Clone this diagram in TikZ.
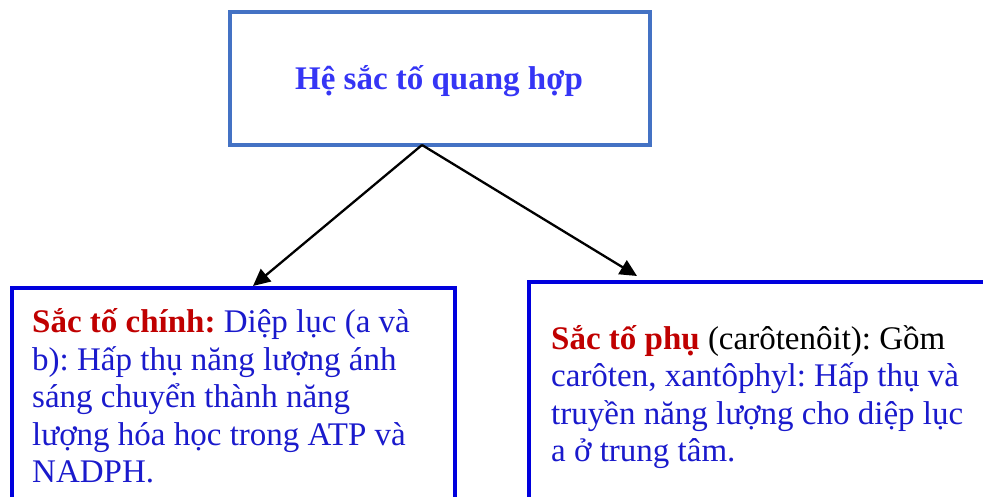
\documentclass[tikz,border=0pt]{standalone}
\usepackage{fontspec}
\setmainfont{Liberation Serif}
\usetikzlibrary{arrows.meta}
\frenchspacing
\definecolor{topblue}{HTML}{4472C4}
\definecolor{boxblue}{HTML}{0000DD}
\definecolor{txtblue}{HTML}{1A1ACC}
\definecolor{titleblue}{HTML}{3535F5}
\definecolor{hred}{HTML}{C00000}
\tikzset{
  topbox/.style={draw=topblue, line width=4pt, minimum width=420pt, minimum height=133pt, inner sep=0pt},
  lowbox/.style={draw=boxblue, line width=4.5pt},
  bodytext/.style={anchor=base west, align=left, inner sep=0pt, text=txtblue,
    font=\fontsize{33}{37.5}\selectfont},
  conn/.style={-{Triangle[length=17pt,width=16pt]}, line width=2.3pt, black}
}
\begin{document}
\begin{tikzpicture}[x=1pt,y=1pt]
\useasboundingbox (0,0) rectangle (983,497);
\clip (0,0) rectangle (983,497);
% top box
\node[topbox] (top) at (440,418.5) {};
\node[anchor=base, inner sep=0pt, text=titleblue, font=\fontsize{33}{38}\selectfont\bfseries] (title) at (439,407) {Hệ sắc tố quang hợp};
% lower boxes
\draw[lowbox] (12,-30) rectangle (455,209);
\draw[lowbox] (529,-30) rectangle (1020,215);
\node[bodytext] (lefttext) at (32,14) {\textbf{\color{hred}Sắc tố chính:} Diệp lục (a và\\
b): Hấp thụ năng lượng ánh\\
sáng chuyển thành năng\\
lượng hóa học trong ATP và\\
NADPH.};
\node[bodytext] (righttext) at (551,35) {\textbf{\color{hred}Sắc tố phụ} {\color{black}(carôtenôit): Gồm}\\
carôten, xantôphyl: Hấp thụ và\\
truyền năng lượng cho diệp lục\\
a ở trung tâm.};
% connectors
\coordinate (s) at (422,352);
\coordinate (lt) at (253,211);
\coordinate (rt) at (637,221);
\draw[conn] (s) -- (lt);
\draw[conn] (s) -- (rt);
\end{tikzpicture}
\end{document}
